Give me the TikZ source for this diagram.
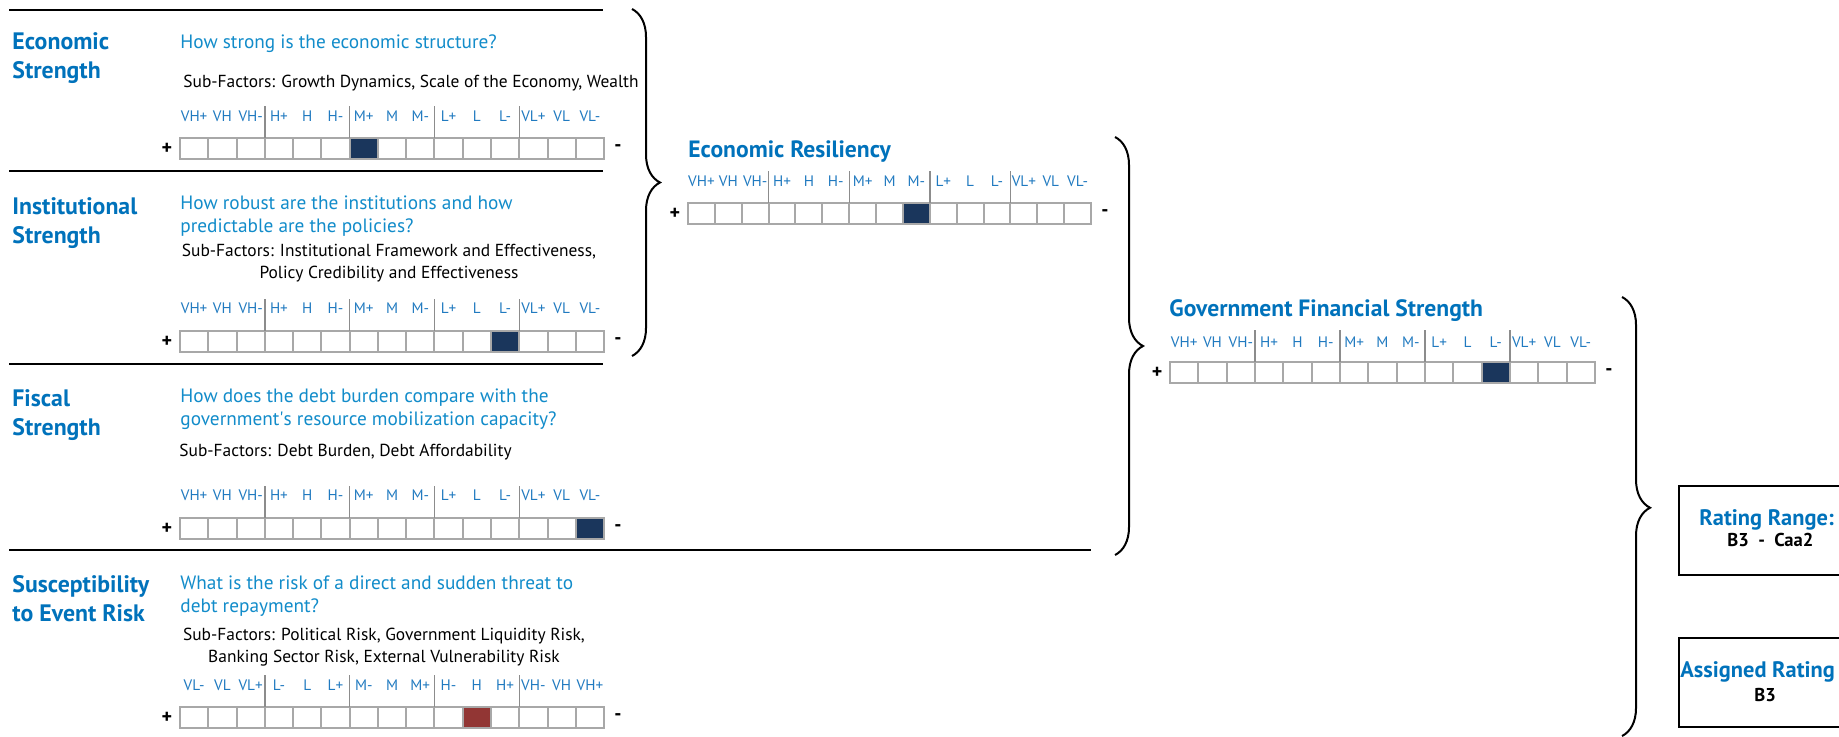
\documentclass[tikz,border=0pt]{standalone}
\usepackage{fontspec}
\setmainfont{PT Sans}
\usepackage{xcolor}
\usepackage{tikz}
\usetikzlibrary{decorations.pathreplacing, positioning}

\definecolor{titleblue}{RGB}{0,114,187}
\definecolor{askblue}{RGB}{18,140,202}
\definecolor{lblblue}{RGB}{32,122,192}
\definecolor{cellgrey}{RGB}{168,168,168}
\definecolor{navy}{RGB}{26,54,92}
\definecolor{brick}{RGB}{146,54,52}

\begin{document}
\begin{tikzpicture}[x=0.5pt, y=-0.5pt]
		\tikzstyle{title} = [anchor=base west, inner sep=0, align=left, text=titleblue, font=\fontsize{11.9}{14.5}\selectfont\bfseries]
		\tikzstyle{head} = [anchor=base west, inner sep=0, text=titleblue, font=\fontsize{11.8}{13}\selectfont\bfseries]
		\tikzstyle{ask} = [anchor=base west, inner sep=0, align=left, text=askblue, font=\fontsize{9.65}{11.75}\selectfont]
		\tikzstyle{sub} = [anchor=base west, inner sep=0, align=left, font=\fontsize{8.7}{11}\selectfont]
		\tikzstyle{lbl} = [inner sep=0, text=lblblue, font=\fontsize{7.6}{9}\selectfont]
		\tikzstyle{cell} = [draw=cellgrey, fill=white, line width=1pt, inner sep=0, outer sep=0, minimum height=10.5pt]
		\tikzstyle{sign} = [inner sep=0, font=\fontsize{10}{12}\selectfont\bfseries]
		\tikzstyle{divider} = [draw=black!45, line width=0.7pt]
		\tikzstyle{rule} = [line width=1.25pt]
		\tikzstyle{brace} = [line width=1pt, decorate, decoration={brace, amplitude=14pt}]
		\tikzstyle{ratebox} = [draw=black, line width=1pt, anchor=north west, minimum width=95pt, minimum height=44.5pt]
		\tikzstyle{rate} = [inner sep=0, font=\fontsize{11.2}{14}\selectfont\bfseries, text=titleblue]
		\tikzstyle{grade} = [inner sep=0, font=\fontsize{9.3}{11}\selectfont\bfseries]

		\useasboundingbox (0,0) rectangle (1839,736);
		\clip (0,0) rectangle (1839,736);
		\fill[white] (0,0) rectangle (1839,736);

		% section rules
		\draw[rule] (9,10) -- (603,10);
		\draw[rule] (9,171) -- (603,171);
		\draw[rule] (9,364) -- (603,364);
		\draw[rule] (9,550) -- (1091,550);

		% factor texts (multi-line nodes sit on their last baseline)
		\node[title] 	at (12,78) 		(esT) 	{Economic\\Strength};
		\node[ask] 		at (180,48) 	(esQ) 	{How strong is the economic structure?};
		\node[sub] 		at (183,87) 	(esS) 	{Sub-Factors: Growth Dynamics, Scale of the Economy, Wealth};

		\node[title] 	at (12,243) 	(isT) 	{Institutional\\Strength};
		\node[ask] 		at (180,232.5) 	(isQ) 	{How robust are the institutions and how\\predictable are the policies?};
		\node[sub, anchor=base, align=center] 	at (389,278) 	(isS) 	{Sub-Factors: Institutional Framework and Effectiveness,\\Policy Credibility and Effectiveness};

		\node[title] 	at (12,435) 	(fsT) 	{Fiscal\\Strength};
		\node[ask] 		at (180,425.5) 	(fsQ) 	{How does the debt burden compare with the\\government\textquotesingle s resource mobilization capacity?};
		\node[sub] 		at (179,456) 	(fsS) 	{Sub-Factors: Debt Burden, Debt Affordability};

		\node[title] 	at (12,621) 	(evT) 	{Susceptibility\\to Event Risk};
		\node[ask] 		at (180,612.5) 	(evQ) 	{What is the risk of a direct and sudden threat to\\debt repayment?};
		\node[sub, anchor=base, align=center] 	at (384,662) 	(evS) 	{Sub-Factors: Political Risk, Government Liquidity Risk,\\Banking Sector Risk, External Vulnerability Risk};

		\node[head] 	at (688,157) 	(erT) 	{Economic Resiliency};
		\node[head] 	at (1169,316) 	(gfT) 	{Government Financial Strength};

		% score scales
		\foreach \rn/\xo/\yo/\cw/\sel/\col in {es/180/138/28.27/6/navy, is/180/331/28.27/11/navy, fs/180/518/28.27/14/navy, er/688/203/26.87/8/navy, gf/1170/362/28.33/11/navy, ev/180/707/28.27/10/brick}{
			\foreach \n in {0,...,14}
				\node[cell, minimum width=\cw*0.5pt] at ({\xo+(\n+0.5)*\cw},{\yo+10.5}) (\rn\n) {};
			\node[cell, fill=\col, minimum width=\cw*0.5pt] at (\rn\sel) (\rn x) {};
			\foreach \j in {3,6,9,12}
				\draw[divider] (\rn\j.north west) -- ++(0,-32);
			\node[sign] at ({\xo-13},{\yo+10.5}) (\rn p) {+};
			\node[sign] at ({\xo+15*\cw+14},{\yo+10.5}) (\rn m) {-};
		}
		\foreach \rn/\yo in {es/116, is/308, fs/495, er/181, gf/342}
			\foreach \lb [count=\n from 0] in {VH+,VH,VH-,H+,H,H-,M+,M,M-,L+,L,L-,VL+,VL,VL-}
				\node[lbl] at (\rn\n |- 0,\yo) (\rn l\n) {\lb};
		\foreach \lb [count=\n from 0] in {VL-,VL,VL+,L-,L,L+,M-,M,M+,H-,H,H+,VH-,VH,VH+}
			\node[lbl] at (ev\n |- 0,685) (evl\n) {\lb};

		% braces
		\draw[brace] (632,9) -- (632,356);
		\draw[brace] (1115,137) -- (1115,555);
		\draw[brace, decoration={aspect=0.48}] (1622,297) -- (1622,736);

		% rating boxes
		\node[ratebox] 	at (1678,485) 	(range) 	{};
		\node[ratebox] 	at (1678,637) 	(assigned) 	{};
		\node[rate, anchor=base west] 	at (1699,525) 	(rangeT) 	{Rating Range:};
		\node[grade, anchor=base west] 	at (1727,546) 	(rangeV) 	{B3\enspace-\enspace Caa2};
		\node[rate, anchor=base west] 	at (1680,677) 	(assignedT) 	{Assigned Rating};
		\node[grade, anchor=base] 		at (1765,701) 	(assignedV) 	{B3};
	\end{tikzpicture}
\end{document}
